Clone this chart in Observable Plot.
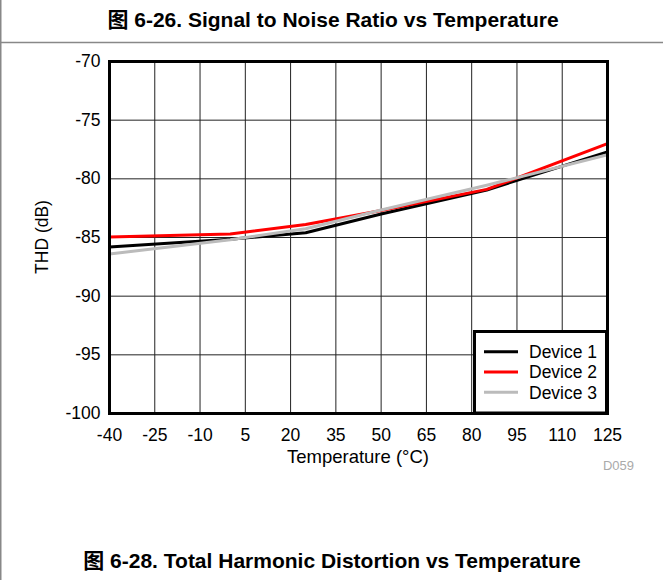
<!DOCTYPE html>
<html>
<head>
<meta charset="utf-8">
<script src="https://cdn.jsdelivr.net/npm/d3@7"></script>
<script src="https://cdn.jsdelivr.net/npm/@observablehq/plot@0.6"></script>
<style>
  html, body { margin: 0; padding: 0; background: #fff; }
  #chart { position: relative; width: 663px; height: 580px; }
</style>
</head>
<body>
<div id="chart"></div>
<script>
const titleText = "图 6-26. Signal to Noise Ratio vs Temperature";
const captionText = "图 6-28. Total Harmonic Distortion vs Temperature";
const xLabel = "Temperature (°C)";
const yLabel = "THD (dB)";
const figId = "D059";

const xTicks = [-40, -25, -10, 5, 20, 35, 50, 65, 80, 95, 110, 125];
const yTicks = [-100, -95, -90, -85, -80, -75, -70];

const temps = [-40, 0, 25, 50, 85, 125];
const device1 = [-85.8, -85.15, -84.6, -83.0, -80.95, -77.7];
const device2 = [-84.95, -84.7, -83.9, -82.7, -80.9, -77.0];
const device3 = [-86.4, -85.2, -84.25, -82.65, -80.55, -77.95];

const seriesNames = ["Device 1", "Device 2", "Device 3"];
const seriesValues = [device1, device2, device3];
const seriesColors = ["#000000", "#ff0000", "#bbbbbb"];

const W = 663, H = 580;
const mL = 109, mR = 56, mT = 61, mB = 167;
const FONT = "'Liberation Sans', Arial, 'Noto Sans CJK SC', sans-serif";

const lineMarks = seriesValues.map((vals, i) =>
  Plot.line(temps.map((t, j) => ({t, v: vals[j]})), {
    x: "t", y: "v", stroke: seriesColors[i], strokeWidth: 3
  })
);

const fmt = d => String(d);

const svg = Plot.plot({
  width: W, height: H,
  marginLeft: mL, marginRight: mR, marginTop: mT, marginBottom: mB,
  style: {fontFamily: FONT, fontSize: "17.5px", color: "#000", background: "#fff", overflow: "visible"},
  x: {domain: [-40, 125], ticks: xTicks, tickFormat: fmt, tickSize: 0, tickPadding: 15, label: null},
  y: {domain: [-100, -70], ticks: yTicks, tickFormat: fmt, tickSize: 0, tickPadding: 9, label: null},
  marks: [
    Plot.ruleX(xTicks, {stroke: "#222", strokeWidth: 1}),
    Plot.ruleY(yTicks, {stroke: "#222", strokeWidth: 1}),
    ...lineMarks,
    Plot.frame({stroke: "#000", strokeWidth: 3})
  ]
});

document.getElementById("chart").appendChild(svg);

const s = d3.select(svg);
// page rules
s.append("line").attr("x1", 0.75).attr("x2", 0.75).attr("y1", 0).attr("y2", H)
  .attr("stroke", "#888").attr("stroke-width", 1.5);
s.append("line").attr("x1", 0).attr("x2", W).attr("y1", 42.5).attr("y2", 42.5)
  .attr("stroke", "#888").attr("stroke-width", 1.5);

// title & caption
s.append("text").text(titleText)
  .attr("x", 333).attr("y", 26.5).attr("text-anchor", "middle")
  .attr("font-size", 21).attr("font-weight", "bold").attr("fill", "#000")
  .attr("font-family", FONT);
s.append("text").text(captionText)
  .attr("x", 332).attr("y", 567.5).attr("text-anchor", "middle")
  .attr("font-size", 21).attr("font-weight", "bold").attr("fill", "#000")
  .attr("font-family", FONT);

// axis labels
s.append("text").text(xLabel)
  .attr("x", (mL + (W - mR)) / 2).attr("y", 463).attr("text-anchor", "middle")
  .attr("font-size", 18.5).attr("fill", "#000");
s.append("text").text(yLabel)
  .attr("transform", `translate(48,${(mT + (H - mB)) / 2}) rotate(-90)`)
  .attr("text-anchor", "middle").attr("font-size", 17.5).attr("fill", "#000");

// figure id
s.append("text").text(figId)
  .attr("x", 634).attr("y", 470).attr("text-anchor", "end")
  .attr("font-size", 13).attr("fill", "#aaa");

// legend
const lg = s.append("g").attr("text-anchor", "start");
lg.append("rect").attr("x", 474.5).attr("y", 331.5).attr("width", 132).attr("height", 81.5)
  .attr("fill", "#fff").attr("stroke", "#000").attr("stroke-width", 3);
seriesNames.forEach((name, i) => {
  const cy = 351.7 + i * 20.3;
  lg.append("line").attr("x1", 484).attr("x2", 518).attr("y1", cy).attr("y2", cy)
    .attr("stroke", seriesColors[i]).attr("stroke-width", 3);
  lg.append("text").text(name).attr("x", 529).attr("y", cy + 6.3)
    .attr("text-anchor", "start")
    .attr("font-size", 17.5).attr("fill", "#000");
});
</script>
</body>
</html>
